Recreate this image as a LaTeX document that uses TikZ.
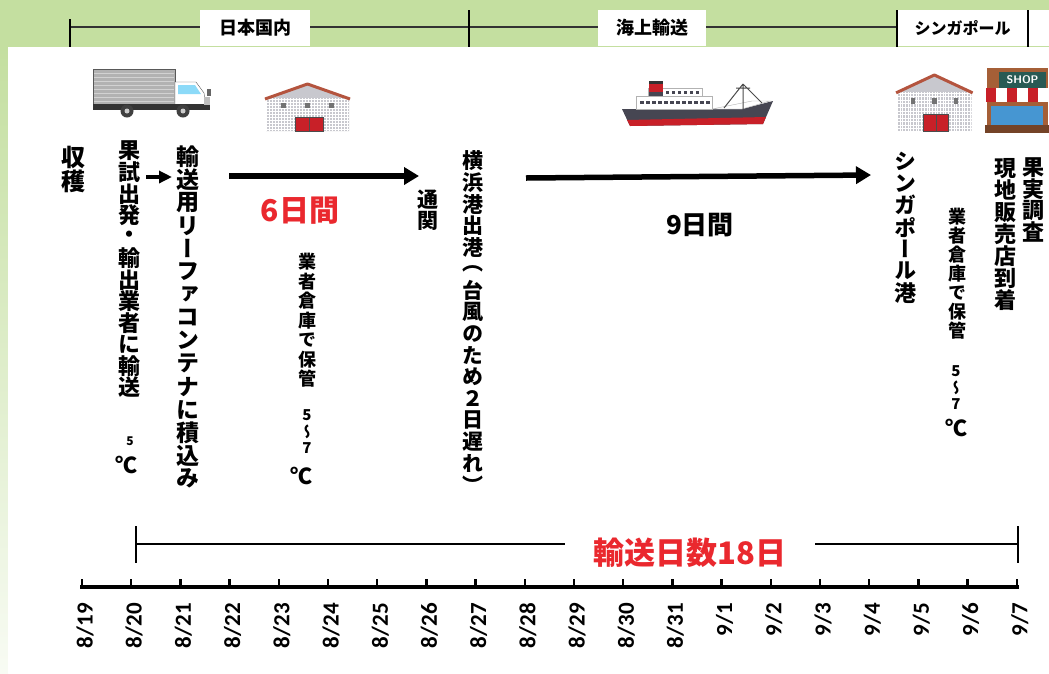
\documentclass[tikz,border=0pt]{standalone}
\usepackage{fontspec}
\setmainfont{Carlito}
\newfontfamily\jp{Noto Sans CJK JP}
\newfontfamily\jpv{Noto Sans CJK JP}[RawFeature=+vert]
\usetikzlibrary{arrows.meta,positioning}

\definecolor{bargreen}{RGB}{196,223,160}
\definecolor{daysred}{RGB}{234,40,46}
\definecolor{roof}{RGB}{180,84,62}
\definecolor{wall}{RGB}{200,200,206}
\definecolor{door}{RGB}{200,32,40}
\definecolor{hull}{RGB}{70,70,82}
\definecolor{signteal}{RGB}{40,90,84}
\definecolor{shopbrown}{RGB}{165,95,55}
\definecolor{glass}{RGB}{70,150,210}

% stack the glyphs one under the other (upright column)
\newdimen\tatepitch
\def\tateA#1{\ifx#1\relax\else
  \vbox to\tatepitch{\vss\hbox to\tatepitch{\hss#1\hss}\vss}\expandafter\tateA\fi}
\newcommand\tate[2][22pt]{\vbox{\offinterlineskip\tatepitch=#1\relax\tateA#2\relax}}

\tikzset{
  depot/.pic={
    \fill[wall] (0,14) -- (41.5,0) -- (83,14) -- (83,47) -- (0,47) -- cycle;
    \draw[white, line width=0.4pt, step=3pt] (0,14) grid (83,47);
    \foreach \wx in {15,39,63}
      \fill[black!55] (\wx,19) rectangle ++(5,5);
    \fill[door, draw=black!70] (29,33) rectangle (57,47);
    \draw[black!70] (43,33) -- (43,47);
    \draw[roof, line width=3pt, line join=round] (-1,15) -- (41.5,0) -- (84,15);
  }
}

\begin{document}
\begin{tikzpicture}[x=1pt, y=-1pt,
    tate/.style={anchor=north, inner sep=0pt, font=\jpv\bfseries\fontsize{22}{22}\selectfont},
    tate small/.style={tate, font=\jpv\bfseries\fontsize{18}{18}\selectfont},
    temp range/.style={tate, font=\jpv\bfseries\fontsize{15}{15}\selectfont},
    degree/.style={inner sep=0pt, font=\jp\bfseries\fontsize{22}{22}\selectfont},
    days/.style={inner sep=0pt, font=\jp\bfseries\fontsize{30}{30}\selectfont},
    region/.style={fill=white, inner sep=0pt, minimum height=36pt, font=\jp\bfseries\fontsize{18}{18}\selectfont},
    date label/.style={rotate=90, anchor=east, inner sep=0pt, font=\bfseries\fontsize{23}{23}\selectfont},
    flow/.style={line width=5.5pt, -{Triangle[length=15pt,width=17pt]}},
    short flow/.style={line width=4.5pt, -{Triangle[length=13pt,width=12pt]}},
    bar tick/.style={line width=1.6pt}]

  \useasboundingbox (0,0) rectangle (1049,673);
  % backdrop
  \fill[bargreen] (0,0) rectangle (1049,47);
  \shade[top color=bargreen, bottom color=bargreen!12] (0,47) rectangle (8,673);
  \fill[white] (8,47) rectangle (1049,673);

  % bar along the top
  \draw[black!80, line width=2pt] (70,27) -- (1028,27);
  \node[region, minimum width=110pt] (japan) at (255,28) {日本国内};
  \node[region, minimum width=108pt] (sea) at (652,28) {海上輸送};
  \node[region, minimum width=131pt, font=\jp\bfseries\fontsize{16}{16}\selectfont] (sing) at (962.5,28) {シンガポール};
  \fill[white] (1028,10) rectangle (1049,46);
  \draw[bar tick] (70,19) -- (70,47) (469,10) -- (469,47) (897,10) -- (897,47) (1028,10) -- (1028,47);

  % truck
  \fill[gray!60, draw=gray!70!black] (93,69) rectangle (175,105);
  \foreach \sy in {73,77,...,101}
    \draw[gray!35] (94,\sy) -- (174,\sy);
  \fill[white, draw=gray!70!black] (175,105) -- (175,82) -- (196,82) -- (204,93) -- (206,105) -- cycle;
  \fill[cyan!45] (178,85) -- (195,85) -- (201,94) -- (178,94) -- cycle;
  \fill[black!80] (93,104) rectangle (210,110);
  \fill[gray!50] (204,97) rectangle (210,105);
  \fill[black!60] (207,89) rectangle (211,96);
  \foreach \wx in {127,183} {
    \fill[black!75] (\wx,111) circle (6.5);
    \fill[gray!40] (\wx,111) circle (2.5);
  }

  % warehouses
  \pic at (266,84) {depot};
  \pic[xscale=0.9, yscale=1.19] at (897,75) {depot};

  % ship
  \fill[hull] (622,109) -- (742,109) -- (773,101) -- (763,124) -- (630,126) -- cycle;
  \fill[door] (627,120) -- (766,117) -- (763,124) -- (630,126) -- cycle;
  \fill[white, draw=gray!60] (712,109) -- (742,109) -- (770,101) -- (752,101) -- cycle;
  \fill[white, draw=gray!60] (636,96) rectangle (712,109);
  \fill[white, draw=gray!60] (648,88) rectangle (702,96);
  \foreach \wx in {640,646,...,706}
    \fill[hull] (\wx,101) rectangle ++(3.5,3);
  \foreach \wx in {666,672,...,696}
    \fill[hull] (\wx,91) rectangle ++(3,2.5);
  \fill[door] (649,84) rectangle (663,92);
  \fill[black!80] (649,81) rectangle (663,84);
  \fill[hull] (649,92) rectangle (663,96);
  \draw[gray!60!black, line width=1pt] (743,84) -- (743,109) (743,84) -- (724,108) (743,84) -- (762,103) (736,88) -- (750,88);

  % shop
  \fill[shopbrown] (987,68) rectangle (1048,132);
  \fill[signteal] (999,72) rectangle (1046,88);
  \node[inner sep=0pt, text=white, font=\bfseries\sffamily\fontsize{11}{11}\selectfont] (shopsign) at (1022.5,80) {SHOP};
  \foreach \k in {0,...,5} {
    \ifodd\k \def\awning{white}\else \def\awning{door}\fi
    \fill[\awning] (986+10.4*\k,88) rectangle ++(10.4,14);
  }
  \fill[glass] (991,106) rectangle (1043,125);
  \fill[shopbrown!70!black] (985,125) rectangle (1049,133);

  % upright labels
  \node[tate, font=\jpv\bfseries\fontsize{24}{24}\selectfont] (harvest) at (73,145) {\tate[24pt]{収穫}};
  \node[tate] (depart) at (129,140) {\tate[21.5pt]{果試出発{\jp ・}輸出業者に輸送}};
  \node[degree, font=\jp\bfseries\fontsize{12}{12}\selectfont] (departT) at (130,441) {5};
  \node[degree] (departC) at (126,465) {℃};
  \node[tate, font=\jpv\bfseries\fontsize{23}{23}\selectfont] (reefer) at (188,145) {\tate[23pt]{輸送用リーファコンテナに積込み}};
  \node[tate small] (storeJP) at (307,252) {\tate[19.5pt]{業者倉庫で保管}};
  \node[temp range] (rangeJP) at (307,407) {\tate[16.5pt]{5〜7}};
  \node[degree] (degJP) at (301,476) {℃};
  \node[tate, font=\jpv\bfseries\fontsize{21}{21}\selectfont] (customs) at (428,188) {\tate[22pt]{通関}};
  \node[tate, font=\jpv\bfseries\fontsize{21}{21}\selectfont] (yokohama) at (473,150) {\tate[21.6pt]{横浜港出港{\jp ︵}台風のため２日遅れ{\jp ︶}}};
  \node[tate] (sgport) at (905,150) {\tate[22pt]{シンガポール港}};
  \node[tate small] (storeSG) at (957,207) {\tate[19pt]{業者倉庫で保管}};
  \node[temp range] (rangeSG) at (956,363) {\tate[16.5pt]{5〜7}};
  \node[degree] (degSG) at (956,428) {℃};
  \node[tate] (arrive) at (1005,157) {\tate[22pt]{現地販売店到着}};
  \node[tate] (survey) at (1033,157) {\tate[21.5pt]{果実調査}};

  % flow arrows
  \coordinate (s1) at (146,177);
  \coordinate (e1) at (172,177);
  \coordinate (s2) at (229,176);
  \coordinate (e2) at (419,176);
  \coordinate (s3) at (526,178);
  \coordinate (e3) at (871,175);
  \path (s1) edge[short flow] (e1)
        (s2) edge[flow] (e2)
        (s3) edge[flow] (e3);

  \node[days, text=daysred] (span6) at (300,211) {6日間};
  \node[days, font=\jp\bfseries\fontsize{26}{26}\selectfont] (span9) at (700,225) {9日間};

  % whole trip
  \coordinate (tripL) at (136,544);
  \coordinate (tripR) at (1018,544);
  \draw[line width=1.5pt] (tripL) -- (tripR);
  \draw[bar tick] (136,526) -- (136,563) (1018,526) -- (1018,563);
  \node[days, text=daysred, fill=white, inner xsep=29pt, font=\jp\bfseries\fontsize{31}{31}\selectfont] (trip) at (690,553) {輸送日数18日};

  % date axis
  \draw[line width=4pt] (80,586.5) -- (1018.5,586.5);
  \foreach \d [count=\i from 0] in {8/19,8/20,8/21,8/22,8/23,8/24,8/25,8/26,8/27,8/28,8/29,8/30,8/31,9/1,9/2,9/3,9/4,9/5,9/6,9/7} {
    \draw[line width=2.5pt] (82+49.2*\i,586) -- (82+49.2*\i,579);
    \node[date label] (date\i) at (85+49.2*\i,603) {\d};
  }
\end{tikzpicture}
\end{document}
